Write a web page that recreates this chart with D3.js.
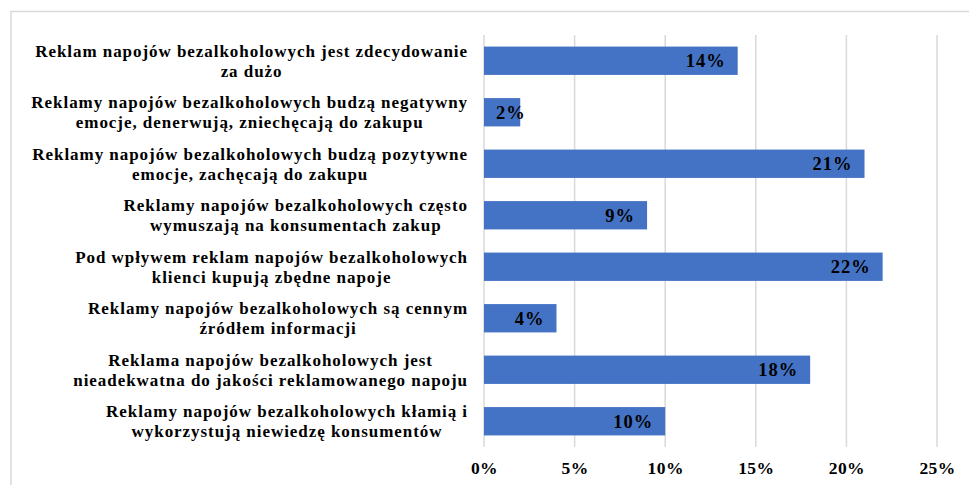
<!DOCTYPE html>
<html>
<head>
<meta charset="utf-8">
<script src="https://cdn.jsdelivr.net/npm/d3@7"></script>
<style>
  html, body { margin: 0; padding: 0; background: #fff; }
  svg { display: block; }
</style>
</head>
<body>
<svg id="chart" width="969" height="485"></svg>
<script>
// Category labels (each entry split into its display lines)
const categories = [
  ["Reklam napojów bezalkoholowych jest zdecydowanie", "za dużo"],
  ["Reklamy napojów bezalkoholowych budzą negatywny", "emocje, denerwują, zniechęcają do zakupu"],
  ["Reklamy napojów bezalkoholowych budzą pozytywne", "emocje, zachęcają do zakupu"],
  ["Reklamy napojów bezalkoholowych często", "wymuszają na konsumentach zakup"],
  ["Pod wpływem reklam napojów bezalkoholowych", "klienci kupują zbędne napoje"],
  ["Reklamy napojów bezalkoholowych są cennym", "źródłem informacji"],
  ["Reklama napojów bezalkoholowych jest", "nieadekwatna do jakości reklamowanego napoju"],
  ["Reklamy napojów bezalkoholowych kłamią i", "wykorzystują niewiedzę konsumentów"]
];
// Share of responses, in percent
const values = [14, 2, 21, 9, 22, 4, 18, 10];
// Axis ticks, in percent
const ticks = [0, 5, 10, 15, 20, 25];

const svg = d3.select("#chart");
const FONT = "'Liberation Serif', 'Times New Roman', serif";
const GRID = "#d9d9d9";
const BAR = "#4472c4";

// Chart frame
svg.append("rect")
  .attr("x", 11).attr("y", 11.5)
  .attr("width", 1000).attr("height", 1000)
  .attr("fill", "none").attr("stroke", GRID).attr("stroke-width", 1.5);

const keys = categories.map((d, i) => i);
const x = d3.scaleLinear().domain([0, 25]).range([484, 937]);
const y = d3.scaleBand().domain(keys).range([35, 447]).paddingInner(0.45).paddingOuter(0.225);

// Vertical gridlines
svg.append("g").selectAll("line").data(ticks).join("line")
  .attr("x1", d => x(d)).attr("x2", d => x(d))
  .attr("y1", 35).attr("y2", 447)
  .attr("stroke", GRID).attr("stroke-width", 1.5);

// Bottom axis labels
const axis = d3.axisBottom(x).tickValues(ticks).tickSize(0).tickPadding(0)
  .tickFormat(d => d + "%");
const ag = svg.append("g").attr("transform", "translate(0,460)").call(axis);
ag.select(".domain").remove();
ag.selectAll("text")
  .attr("font-family", FONT).attr("font-weight", "bold")
  .attr("font-size", 17.5).attr("fill", "#000").attr("dy", "0.8em")
  .attr("letter-spacing", 0.4);

// Bars
svg.append("g").selectAll("rect").data(values).join("rect")
  .attr("x", x(0))
  .attr("y", (d, i) => y(i))
  .attr("width", d => x(d) - x(0))
  .attr("height", y.bandwidth())
  .attr("fill", BAR);

// Value labels, inside the bar end
const lbl = svg.append("g").selectAll("text").data(values).join("text")
  .attr("font-family", FONT).attr("font-weight", "bold")
  .attr("font-size", 18.5).attr("fill", "#000")
  .attr("letter-spacing", 1)
  .attr("text-anchor", "end")
  .attr("dy", "0.35em")
  .attr("y", (d, i) => y(i) + y.bandwidth() / 2)
  .text(d => d + "%");
lbl.attr("x", function(d) {
  const w = this.getComputedTextLength();
  return Math.max(x(d) - 12, x(0) + 12 + w);
});

// Category labels: lines centred on each other, block right-aligned
const lineH = 20;
const cg = svg.append("g");
categories.forEach((lines, i) => {
  const t = cg.append("text")
    .attr("font-family", FONT).attr("font-weight", "bold")
    .attr("font-size", 17).attr("fill", "#000")
    .attr("letter-spacing", 0.95)
    .attr("text-anchor", "middle");
  const cy = y(i) + y.bandwidth() / 2;
  const spans = lines.map((s, j) => t.append("tspan")
    .attr("y", cy + (j - (lines.length - 1) / 2) * lineH)
    .attr("dy", "0.35em")
    .text(s));
  const maxW = d3.max(spans, s => s.node().getComputedTextLength());
  spans.forEach(s => s.attr("x", 468 - maxW / 2));
});
</script>
</body>
</html>
